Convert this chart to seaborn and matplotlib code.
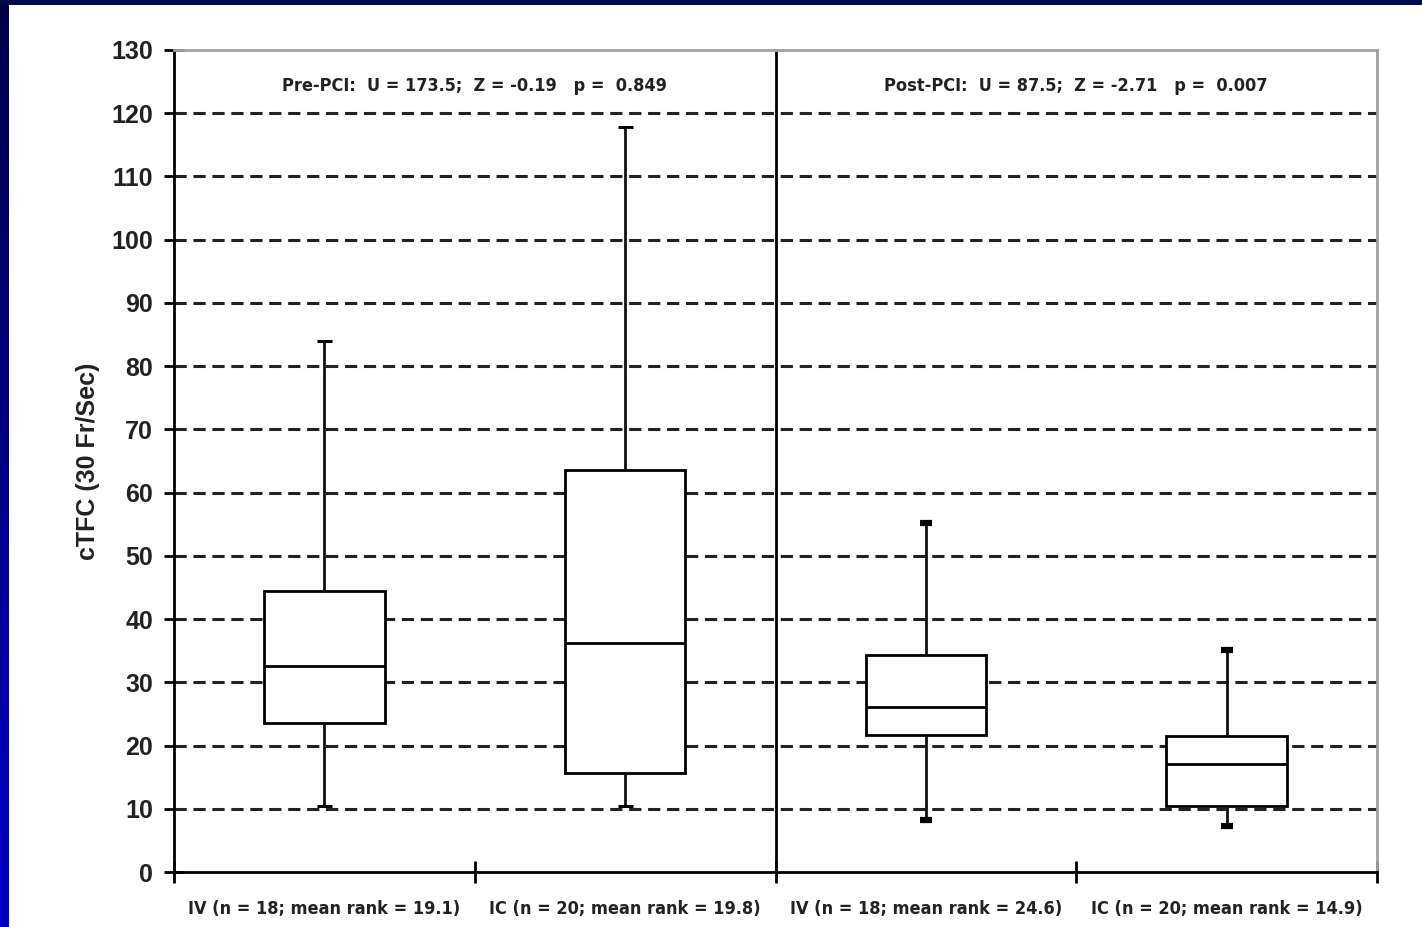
import numpy as np
import pandas as pd
import matplotlib
matplotlib.use("Agg")
import matplotlib.pyplot as plt
from matplotlib import font_manager as fm
import seaborn as sns

# Group labels (x axis)
groups = [
    "IV (n = 18; mean rank = 19.1)",
    "IC (n = 20; mean rank = 19.8)",
    "IV (n = 18; mean rank = 24.6)",
    "IC (n = 20; mean rank = 14.9)",
]

# Five-number summaries: min, Q1, median, Q3, max
iv_pre = [10.4, 23.6, 32.6, 44.4, 84.0]
ic_pre = [10.4, 15.7, 36.2, 63.6, 117.8]
iv_post = [8.2, 21.7, 26.1, 34.3, 55.2]
ic_post = [7.3, 10.4, 17.1, 21.5, 35.1]

pre_text = "Pre-PCI:  U = 173.5;  Z = -0.19   p =  0.849"
post_text = "Post-PCI:  U = 87.5;  Z = -2.71   p =  0.007"

rows = []
for g, vals in zip(groups, [iv_pre, ic_pre, iv_post, ic_post]):
    for v in vals:
        rows.append({"group": g, "cTFC": v})
df = pd.DataFrame(rows)

sns.set_theme(style="white")
plt.rcParams["font.family"] = ["Liberation Sans", "DejaVu Sans"]

# pick a condensed face for the annotation texts if one is installed
names = {f.name for f in fm.fontManager.ttflist}
cond = [f for f in fm.fontManager.ttflist
        if f.name == "DejaVu Sans" and str(f.stretch) in ("condensed", "semi-condensed", "75", "87")]
if "Liberation Sans Narrow" in names:
    narrow_kw = dict(family=["Liberation Sans Narrow", "DejaVu Sans"], fontsize=16)
elif cond:
    narrow_kw = dict(family=["DejaVu Sans"], fontstretch="condensed", fontsize=13)
else:
    narrow_kw = dict(family=["Liberation Sans", "DejaVu Sans"], fontsize=12.5)

fig = plt.figure(figsize=(14.22, 9.27), dpi=100)
fig.patch.set_facecolor("white")

# blue slide border (left gradient strip + top strip)
grad_ax = fig.add_axes([0, 0, 9 / 1422, 1])
grad = np.linspace(0, 1, 256).reshape(-1, 1)
cmap = matplotlib.colors.LinearSegmentedColormap.from_list("edge", ["#000048", "#0000c4"])
grad_ax.imshow(grad, aspect="auto", cmap=cmap, origin="upper")
grad_ax.axis("off")
top_ax = fig.add_axes([0, 1 - 5 / 927, 1, 5 / 927])
top_ax.set_facecolor("#000a4a")
top_ax.set_xticks([])
top_ax.set_yticks([])
for s in top_ax.spines.values():
    s.set_visible(False)

ax = fig.add_axes([174 / 1422, 55 / 927, 1203 / 1422, 822 / 927])

sns.boxplot(
    data=df, x="group", y="cTFC", order=groups, ax=ax,
    whis=(0, 100), width=0.4, color="white", linewidth=2,
    linecolor="black",
    boxprops=dict(facecolor="white", edgecolor="black", linewidth=2, zorder=3),
    medianprops=dict(color="black", linewidth=2, zorder=4),
    whiskerprops=dict(color="#111111", linewidth=2, zorder=3),
    capprops=dict(color="black", linewidth=2, zorder=3),
)

# short caps: thin for pre-PCI, thick stubs for post-PCI
post_ends = [iv_post[0], iv_post[-1], ic_post[0], ic_post[-1]]
pre_ends = [iv_pre[0], iv_pre[-1], ic_pre[0], ic_pre[-1]]
for ln in ax.lines:
    x = np.asarray(ln.get_xdata(), dtype=float)
    y = np.asarray(ln.get_ydata(), dtype=float)
    if len(x) != 2 or y[0] != y[1] or x[0] == x[1]:
        continue
    c = x.mean()
    if np.any(np.isclose(y[0], post_ends)) and c > 1.5:
        ln.set_xdata([c - 0.02, c + 0.02])
        ln.set_linewidth(4.5)
        ln.set_solid_capstyle("butt")
    elif np.any(np.isclose(y[0], pre_ends)) and c < 1.5:
        ln.set_xdata([c - 0.025, c + 0.025])
        ln.set_linewidth(2.2)
        ln.set_solid_capstyle("butt")

ax.set_xlim(-0.5, 3.5)
ax.set_ylim(0, 130)
ax.set_yticks(np.arange(0, 131, 10))
ax.set_yticklabels([str(v) for v in range(0, 131, 10)], fontsize=18, fontweight="bold", color="#222222")

# ticks at boundaries, labels at group centres
ax.set_xticks([-0.5, 0.5, 1.5, 2.5, 3.5])
ax.set_xticklabels([])
ax.set_xticks([0, 1, 2, 3], minor=True)
ax.set_xticklabels(groups, minor=True, fontweight="bold", color="#222222", **narrow_kw)
ax.tick_params(axis="x", which="minor", length=0, pad=20)
ax.tick_params(axis="x", which="major", direction="inout", length=16, width=2, color="black")
ax.tick_params(axis="y", direction="inout", length=14, width=2, color="black", pad=8)
ax.tick_params(left=True, bottom=True)

ax.set_xlabel("")
ax.set_ylabel("cTFC (30 Fr/Sec)", fontsize=18, fontweight="bold", color="#222222", labelpad=8)

# dashed horizontal grid
for v in range(10, 130, 10):
    ax.axhline(v, color="#222222", linestyle=(0, (4, 2.2)), linewidth=2.2, zorder=1)

# divider between pre and post
ax.axvline(1.5, color="black", linewidth=2, zorder=2)

for side in ["left", "bottom"]:
    ax.spines[side].set_color("black")
    ax.spines[side].set_linewidth(2)
for side in ["top", "right"]:
    ax.spines[side].set_color("#a0a0a0")
    ax.spines[side].set_linewidth(2)

ax.text(0.5, 124.3, pre_text, ha="center", va="center",
        fontweight="bold", color="#222222", **narrow_kw)
ax.text(2.5, 124.3, post_text, ha="center", va="center",
        fontweight="bold", color="#222222", **narrow_kw)

fig.savefig("out.png", dpi=100, facecolor="white")
